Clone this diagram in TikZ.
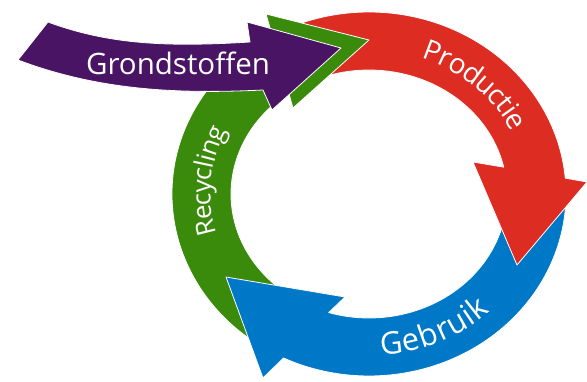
\documentclass[tikz,border=0pt]{standalone}
\usepackage{fontspec}
\newfontfamily\labelfont{Open Sans}
\usetikzlibrary{decorations.text}

\definecolor{rawPurple}{RGB}{74,20,100}
\definecolor{prodRed}{RGB}{221,44,34}
\definecolor{useBlue}{RGB}{0,120,200}
\definecolor{recGreen}{RGB}{58,138,12}

\begin{document}
\begin{tikzpicture}[x=1pt,y=1pt,%%
  arrowStyle/.style={draw=white,line width=0.8pt,line join=round},%%
  labelStyle/.style={text=white,font=\labelfont\fontsize{29.5}{29.5}\selectfont},%%
  curvedLabel/.style 2 args={decorate,decoration={text along path,text align=center,%%
      text color=white,raise=-9pt,text={|\labelfont\fontsize{#1}{#1}\selectfont|#2}}}%%
]
%%
%% Radii of the ring (outer, inner, middle), origin at its centre.
\pgfmathsetmacro{\rxo}{197}
\pgfmathsetmacro{\ryo}{182}
\pgfmathsetmacro{\rxi}{138}
\pgfmathsetmacro{\ryi}{124}
\pgfmathsetmacro{\rxm}{167.5}
\pgfmathsetmacro{\rym}{153}
%%
\useasboundingbox (-369,-187) rectangle (218,194);
%%
\coordinate (redOuterBarb) at (218,12);
\coordinate (redTip) at (148,-71);
\coordinate (redInnerBarb) at (104,32);
\coordinate (blueOuterBarb) at (-106,-184);
\coordinate (blueTip) at (-143,-83);
\coordinate (blueInnerBarb) at (-24,-103);
\coordinate (greenOuterBarb) at (-103,180);
\coordinate (greenTip) at (0,154);
\coordinate (greenInnerBarb) at (-76,86);
%%
\coordinate (rawTail) at (-321,172);
\coordinate (rawNotch) at (-351,134);
\coordinate (rawTopShoulder) at (-119,152);
\coordinate (rawUpperBarb) at (-122,172);
\coordinate (rawTip) at (-28,146);
\coordinate (rawLowerBarb) at (-97,84);
\coordinate (rawBottomShoulder) at (-106,104);
%%
%% Recycling arrow (left).
\path[arrowStyle,fill=recGreen] (235:\rxo pt and \ryo pt)
  arc[start angle=235,end angle=119.4,x radius=\rxo pt,y radius=\ryo pt]
  -- (greenOuterBarb) -- (greenTip) -- (greenInnerBarb)
  -- (124.5:\rxi pt and \ryi pt)
  arc[start angle=124.5,end angle=232,x radius=\rxi pt,y radius=\ryi pt] -- cycle;
%% Gebruik arrow (bottom).
\path[arrowStyle,fill=useBlue] (-2:\rxo pt and \ryo pt)
  arc[start angle=-2,end angle=-115.7,x radius=\rxo pt,y radius=\ryo pt]
  -- (blueOuterBarb) -- (blueTip) -- (blueInnerBarb)
  -- (-107:\rxi pt and \ryi pt)
  arc[start angle=-107,end angle=-2,x radius=\rxi pt,y radius=\ryi pt] -- cycle;
%% Productie arrow (right).
\path[arrowStyle,fill=prodRed] (110:\rxo pt and \ryo pt)
  arc[start angle=110,end angle=5,x radius=\rxo pt,y radius=\ryo pt]
  -- (redOuterBarb) -- (redTip) -- (redInnerBarb)
  -- (12.5:\rxi pt and \ryi pt)
  arc[start angle=12.5,end angle=110,x radius=\rxi pt,y radius=\ryi pt] -- cycle;
%% Green head again, over the red tail.
\path[arrowStyle,fill=recGreen] (greenOuterBarb) -- (greenTip) -- (greenInnerBarb) -- cycle;
%% Grondstoffen arrow (top left).
\path[arrowStyle,fill=rawPurple] (rawTail) .. controls (-259,149) and (-199,147) .. (rawTopShoulder)
  -- (rawUpperBarb) -- (rawTip) -- (rawLowerBarb) -- (rawBottomShoulder)
  .. controls (-189,100) and (-269,103) .. (rawNotch) -- cycle;
%%
%% Labels.
\node[labelStyle,anchor=base] (rawLabel) at (-191,120) {Grondstoffen};
\path[curvedLabel={28}{Productie}] (78:\rxm pt and \rym pt)
  arc[start angle=78,end angle=18,x radius=\rxm pt,y radius=\rym pt];
\path[curvedLabel={31}{Gebruik}] (-96:\rxm pt and \rym pt)
  arc[start angle=-96,end angle=-36,x radius=\rxm pt,y radius=\rym pt];
\path[curvedLabel={26}{Recycling}] (205:\rxm pt and \rym pt)
  arc[start angle=205,end angle=145,x radius=\rxm pt,y radius=\rym pt];
\end{tikzpicture}
\end{document}
